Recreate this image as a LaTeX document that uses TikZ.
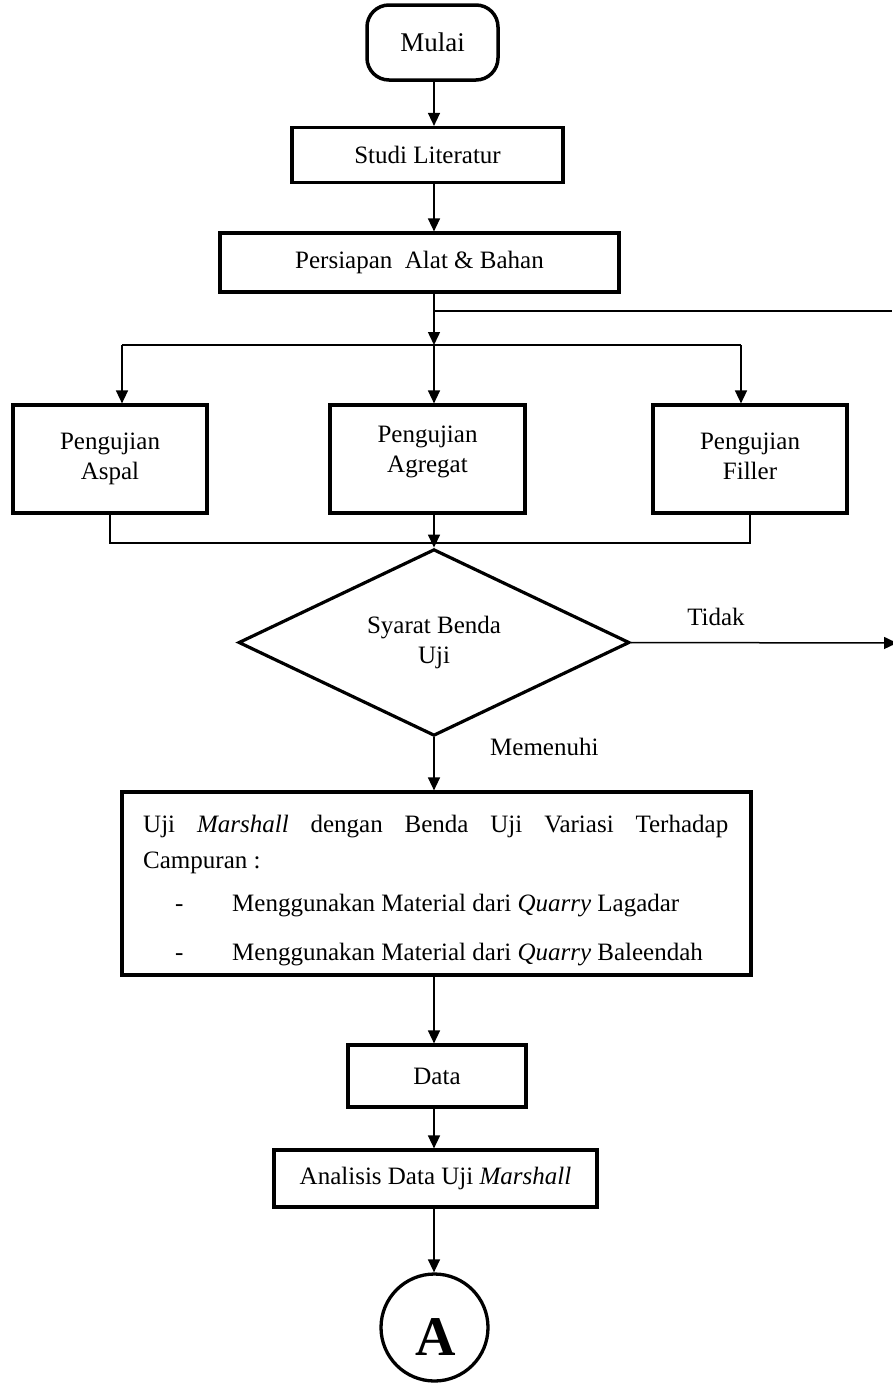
\documentclass[tikz,border=0pt]{standalone}
\usepackage{fontspec}
\setmainfont{Liberation Serif}
\usetikzlibrary{shapes.geometric,arrows.meta,calc}
\begin{document}
\begin{tikzpicture}[x=1pt,y=-1pt,
  txt/.style={font=\fontsize{25}{30}\selectfont, inner sep=0pt},
  box/.style={txt, draw, rectangle, line width=3.2pt, align=center},
  conn/.style={line width=1.5pt, -{Triangle[length=13pt,width=12pt]}},
  plain/.style={line width=1.3pt}]
\useasboundingbox (0,0) rectangle (892,1384);
\coordinate (col) at (434,0);
% nodes
\node[box, rounded corners=22pt, line width=3.5pt, minimum width=131pt, minimum height=75pt, font=\fontsize{27}{32}\selectfont] (mulai) at (432.5,42.5) {Mulai};
\node[box, minimum width=271pt, minimum height=55pt] (studi) at (427.5,155) {Studi Literatur};
\node[box, minimum width=399pt, minimum height=59pt] (persiapan) at (419.5,262.5) {Persiapan\ \ Alat \& Bahan};
\node[box, minimum width=194pt, minimum height=108pt] (aspal) at (110,459) {Pengujian\\Aspal};
\node[box, minimum width=195pt, minimum height=108pt] (agregat) at (427.5,459) {Pengujian\\Agregat\\[-10.5pt]\mbox{}};
\node[box, minimum width=194pt, minimum height=108pt] (filler) at (750,459) {Pengujian\\Filler\vphantom{g}};
\node[box, diamond, minimum width=391pt, minimum height=185pt] (syarat) at (434,642.5) {Syarat Benda\\Uji};
\node[box, minimum width=629pt, minimum height=183pt] (big) at (436.5,883.5) {};
\node[box, minimum width=178pt, minimum height=62pt] (data) at (437,1076) {Data};
\node[box, minimum width=323pt, minimum height=57pt] (analisis) at (435.5,1178.5) {Analisis Data Uji \textit{Marshall}};
\node[draw, circle, line width=3.3pt, minimum size=107pt, inner sep=0pt] (A) at (434.5,1327.5) {};
\node[font=\bfseries\fontsize{56}{60}\selectfont, inner sep=0pt, anchor=base] (Atxt) at (436,1355) {A};
% text inside big box
\node[txt, anchor=west] (l1) at (143,827) {\makebox[585pt][s]{Uji \textit{Marshall} dengan Benda Uji Variasi Terhadap}};
\node[txt, anchor=west] (l2) at (143,863) {Campuran :};
\node[txt, anchor=west] (l3) at (175,906) {\makebox[57pt][l]{-}Menggunakan Material dari \textit{Quarry} Lagadar};
\node[txt, anchor=west] (l4) at (175,955) {\makebox[57pt][l]{-}Menggunakan Material dari \textit{Quarry} Baleendah};
% labels
\node[txt] (tidak) at (716,617) {Tidak};
\node[txt, anchor=west] (memenuhi) at (490,747) {Memenuhi};
% coordinates
\coordinate (br) at (434,345);
\coordinate (bl) at (122,345);
\coordinate (brr) at (741,345);
\coordinate (rt) at (892,311);
\coordinate (jl) at (110,543);
\coordinate (jr) at (750,543);
\coordinate (tend) at (897,643);
% connectors
\draw[conn] (mulai.south -| col) -- (studi.north -| col);
\draw[conn] (studi.south -| col) -- (persiapan.north -| col);
\draw[conn] (persiapan.south -| col) -- (br);
\draw[plain] (col |- rt) -- (rt);
\draw[plain] (bl) -- (brr);
\draw[conn] (bl) -- (bl |- aspal.north);
\draw[conn] (br) -- (agregat.north -| col);
\draw[conn] (brr) -- (brr |- filler.north);
\draw[plain] (aspal.south -| jl) -- (jl) -- (jr) -- (filler.south -| jr);
\draw[conn] (agregat.south -| col) -- (syarat.north);
\draw[conn] (syarat.east) -- (tend);
\draw[conn] (syarat.south) -- (big.north -| col);
\draw[conn] (big.south -| col) -- (data.north -| col);
\draw[conn] (data.south -| col) -- (analisis.north -| col);
\draw[conn] (analisis.south -| col) -- (A.north -| col);
\end{tikzpicture}
\end{document}
